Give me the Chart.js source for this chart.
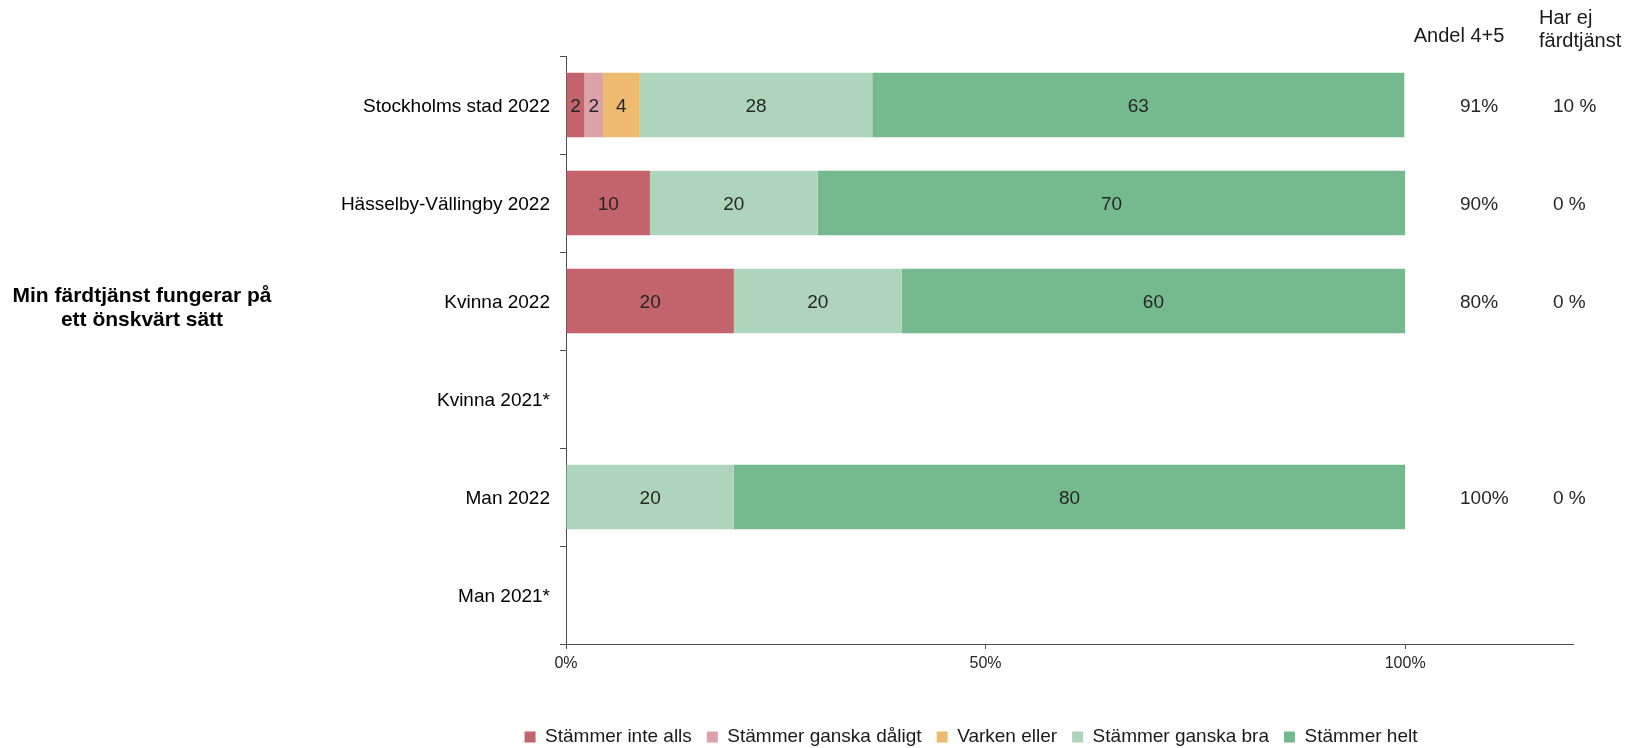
<!DOCTYPE html>
<html>
<head>
<meta charset="utf-8">
<script src="https://cdn.jsdelivr.net/npm/chart.js@4/dist/chart.umd.min.js"></script>
<style>
  html, body { margin: 0; padding: 0; background: #ffffff; }
  #wrap { width: 1635px; height: 748px; position: relative; }
</style>
</head>
<body>
<div id="wrap"><canvas id="c" width="1635" height="748"></canvas></div>
<script>
// ---- data ----
const categories = ["Stockholms stad 2022", "Hässelby-Vällingby 2022", "Kvinna 2022", "Kvinna 2021*", "Man 2022", "Man 2021*"];
const seriesNames = ["Stämmer inte alls", "Stämmer ganska dåligt", "Varken eller", "Stämmer ganska bra", "Stämmer helt"];
const stammerInteAlls    = [2.2, 10, 20, null, 0, null];
const stammerGanskaDalig = [2.2, 0, 0, null, 0, null];
const varkenEller        = [4.4, 0, 0, null, 0, null];
const stammerGanskaBra   = [27.7, 20, 20, null, 20, null];
const stammerHelt        = [63.4, 70, 60, null, 80, null];
const andel45 = ["91%", "90%", "80%", "", "100%", ""];
const harEjFardtjanst = ["10 %", "0 %", "0 %", "", "0 %", ""];
const xTicks = [0, 50, 100];
const questionLines = ["Min färdtjänst fungerar på", "ett önskvärt sätt"];
const headerAndel = ["Andel 4+5"];
const headerHarEj = ["Har ej", "färdtjänst"];

const colors = ["#C3636C", "#DBA2AA", "#EDBA70", "#AED5BC", "#75B98F"];
const seriesValues = [stammerInteAlls, stammerGanskaDalig, varkenEller, stammerGanskaBra, stammerHelt];

const FONT = "'Liberation Sans', Arial, Helvetica, sans-serif";

const datasets = seriesNames.map((name, i) => ({
  label: name,
  data: seriesValues[i],
  backgroundColor: colors[i],
  borderWidth: 0,
  categoryPercentage: 1.0,
  barPercentage: 0.66
}));

const extrasPlugin = {
  id: 'extras',
  afterLayout(chart) {
    const L = chart.legend;
    if (!L) return;
    const dx = 971 - (L.left + L.right) / 2;
    L.left += dx; L.right += dx;
    const lp = L.options.labels.padding;
    const fs = L.options.labels.font.size;
    const dy = 737 - (L.top + lp + fs / 2);
    L.top += dy; L.bottom += dy;
  },
  afterDatasetsDraw(chart) {
    const ctx = chart.ctx;
    ctx.save();
    // value labels in bars
    ctx.font = "19px " + FONT;
    ctx.fillStyle = "#262626";
    ctx.textAlign = "center";
    ctx.textBaseline = "middle";
    chart.data.datasets.forEach((ds, di) => {
      const meta = chart.getDatasetMeta(di);
      meta.data.forEach((el, idx) => {
        const v = ds.data[idx];
        if (v == null || v <= 0) return;
        const cx = (el.x + el.base) / 2;
        ctx.fillText(String(Math.round(v)), cx, el.y + 2);
      });
    });
    // right-hand columns
    const yScale = chart.scales.y;
    ctx.textAlign = "left";
    ctx.fillStyle = "#262626";
    categories.forEach((c, i) => {
      const y = yScale.getPixelForValue(i) + 2;
      if (andel45[i]) ctx.fillText(andel45[i], 1460, y);
      if (harEjFardtjanst[i]) ctx.fillText(harEjFardtjanst[i], 1553, y);
    });
    // headers
    ctx.font = "20px " + FONT;
    ctx.fillStyle = "#1a1a1a";
    ctx.textAlign = "center";
    ctx.fillText(headerAndel[0], 1459, 36);
    ctx.textAlign = "left";
    ctx.fillText(headerHarEj[0], 1539, 18);
    ctx.fillText(headerHarEj[1], 1539, 41);
    // question title
    ctx.font = "bold 21px " + FONT;
    ctx.fillStyle = "#000000";
    ctx.textAlign = "center";
    ctx.fillText(questionLines[0], 142, 296);
    ctx.fillText(questionLines[1], 142, 320);
    ctx.restore();
  }
};

new Chart(document.getElementById('c'), {
  type: 'bar',
  data: { labels: categories, datasets: datasets },
  plugins: [extrasPlugin],
  options: {
    indexAxis: 'y',
    responsive: false,
    animation: false,
    layout: { padding: { top: 56, right: 62, left: 0, bottom: 0 } },
    plugins: {
      tooltip: { enabled: false },
      legend: {
        position: 'bottom',
        labels: {
          boxWidth: 11,
          boxHeight: 11,
          padding: 15,
          color: "#1a1a1a",
          font: { family: FONT, size: 19, lineHeight: 1 }
        }
      }
    },
    scales: {
      x: {
        stacked: true,
        min: 0,
        max: 120,
        afterBuildTicks(scale) { scale.ticks = xTicks.map(v => ({ value: v })); },
        afterFit(scale) {
          const lh = scale.chart.legend ? scale.chart.legend.height : 0;
          scale.height = 748 - 644 - lh;
        },
        ticks: {
          callback: v => v + '%',
          color: "#262626",
          font: { family: FONT, size: 16 },
          padding: 5,
          maxRotation: 0
        },
        grid: { drawOnChartArea: false, tickLength: 5, color: "#4d4d4d" },
        border: { color: "#4d4d4d", width: 1 }
      },
      y: {
        stacked: true,
        afterFit(scale) { scale.width = 566; },
        ticks: {
          color: "#000000",
          font: { family: FONT, size: 19 },
          padding: 10,
          labelOffset: 2
        },
        grid: { offset: true, drawOnChartArea: false, tickLength: 6, color: "#4d4d4d" },
        border: { color: "#4d4d4d", width: 1 }
      }
    }
  }
});
</script>
</body>
</html>
